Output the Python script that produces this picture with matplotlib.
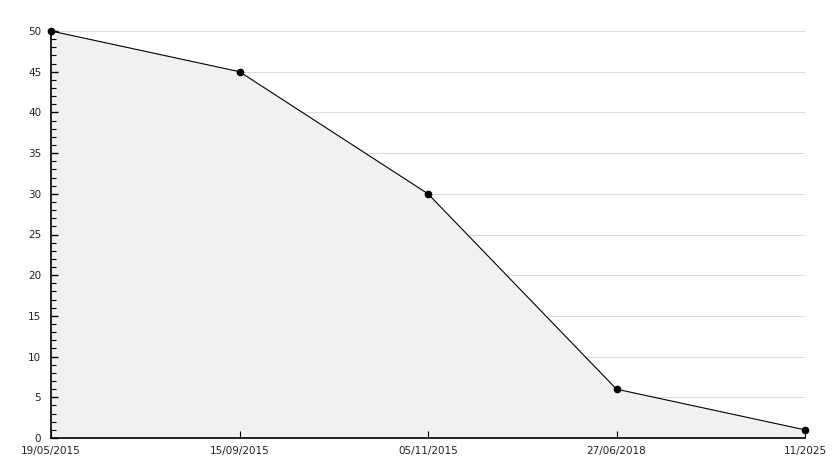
import matplotlib
matplotlib.use("Agg")
import matplotlib.pyplot as plt
from matplotlib.ticker import MultipleLocator

categories = ["19/05/2015", "15/09/2015", "05/11/2015", "27/06/2018", "11/2025"]
values = [50, 45, 30, 6, 1]
grid_levels = [5, 10, 15, 20, 25, 30, 35, 40, 45, 50]

fig = plt.figure(figsize=(8.34, 4.68), dpi=100)
ax = fig.add_axes([51/834, 30/468, (805-51)/834, (438-31)/468])

x = list(range(len(categories)))
for g in grid_levels:
    ax.axhline(g, color="#dcdcdc", linewidth=0.8, zorder=0)
ax.fill_between(x, values, 0, color="#f1f1f1", linewidth=0, zorder=1)
ax.plot(x, values, color="black", linewidth=0.8, marker="o", markersize=4.5,
        markerfacecolor="black", markeredgecolor="black", zorder=3, clip_on=False)

ax.set_xlim(0, len(categories) - 1)
ax.set_ylim(0, 50)
ax.set_xticks(x)
ax.set_xticklabels(categories, fontsize=7.5, color="#222222")
ax.yaxis.set_major_locator(MultipleLocator(5))
ax.yaxis.set_minor_locator(MultipleLocator(1))
ax.tick_params(axis="y", which="major", direction="in", length=5, width=1, labelsize=7.5,
               pad=7, labelcolor="#222222")
ax.tick_params(axis="y", which="minor", direction="in", length=3.5, width=0.8)
ax.tick_params(axis="x", which="major", direction="in", length=5, width=0.8, pad=6)
ax.set_axisbelow(False)

for s in ["top", "right"]:
    ax.spines[s].set_visible(False)
for s in ["left", "bottom"]:
    ax.spines[s].set_linewidth(1.2)

fig.savefig("out.png", dpi=100)
